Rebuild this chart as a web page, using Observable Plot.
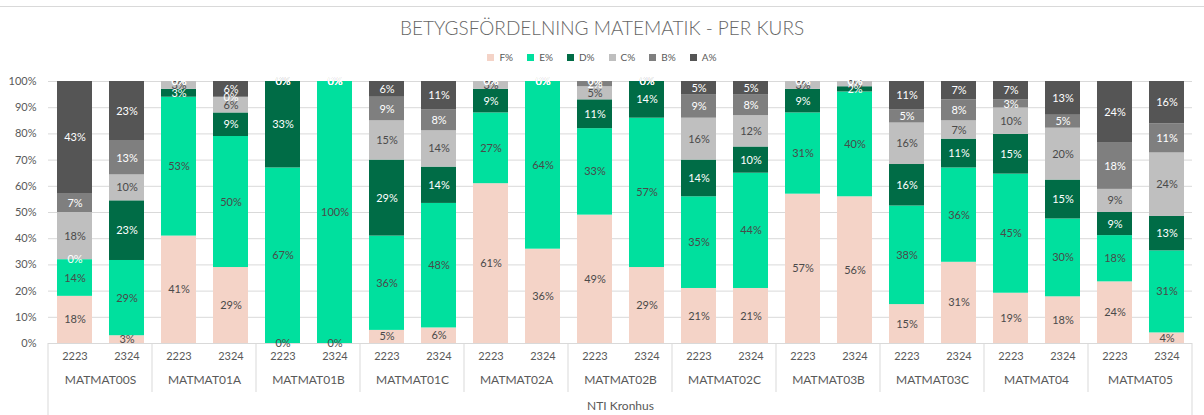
<!DOCTYPE html>
<html><head><meta charset="utf-8">
<script src="https://cdn.jsdelivr.net/npm/d3@7"></script>
<script src="https://cdn.jsdelivr.net/npm/@observablehq/plot@0.6"></script>
<style>
body{margin:0;background:#fff;font-family:Lato,"Open Sans",sans-serif;}
#wrap{position:relative;width:1204px;height:415px;overflow:hidden;background:#fff;}
#topline{position:absolute;left:0;top:6px;width:1204px;height:0;border-top:1px solid #d9d9d9;}
#title{position:absolute;top:17px;left:0;width:1204px;text-align:center;font-size:19px;color:#666666;line-height:22px;font-weight:300;}
#legend{position:absolute;top:51px;left:0;width:1204px;display:flex;justify-content:center;gap:14px;font-size:10px;color:#595959;line-height:12px;}
#legend span.sw{display:inline-block;width:7px;height:7px;margin-right:5px;vertical-align:0px;}
#chart{position:absolute;top:70px;left:0;}
</style></head><body>
<div id="wrap">
  <div id="topline"></div>
  <div id="title">BETYGSFÖRDELNING MATEMATIK - PER KURS</div>
  <div id="legend"></div>
  <div id="chart"></div>
</div>
<script>
// ---- data ----
const courses = ["MATMAT00S","MATMAT01A","MATMAT01B","MATMAT01C","MATMAT02A","MATMAT02B","MATMAT02C","MATMAT03B","MATMAT03C","MATMAT04","MATMAT05"];
const years = ["2223","2324"];
const grades = ["F%","E%","D%","C%","B%","A%"];
// one value per bar: course order above, 2223 then 2324 within each course
const F = [18,3, 41,29, 0,0, 5,6, 61,36, 49,29, 21,21, 57,56, 15,31, 19,18, 24,4];
const E = [14,29, 53,50, 67,100, 36,48, 27,64, 33,57, 35,44, 31,40, 38,36, 45,30, 18,31];
const D = [0,23, 3,9, 33,0, 29,14, 9,0, 11,14, 14,10, 9,2, 16,11, 15,15, 9,13];
const C = [18,10, 3,6, 0,0, 15,14, 3,0, 5,0, 16,12, 3,2, 16,7, 10,20, 9,24];
const B = [7,13, 0,0, 0,0, 9,8, 0,0, 2,0, 9,8, 0,0, 5,8, 3,5, 18,11];
const A = [43,23, 0,6, 0,0, 6,11, 0,0, 0,0, 5,5, 0,0, 11,7, 7,13, 24,16];
const yTicks = [0,0.1,0.2,0.3,0.4,0.5,0.6,0.7,0.8,0.9,1];

// ---- styles ----
const gradeColors = ["#f4d3c7","#00e09e","#006c46","#bfbfbf","#7f7f7f","#555555"];
const darkLabelGrades = ["F%","E%","C%"];
const lightLabelGrades = ["D%","B%","A%"];
const gridColor = "#d9d9d9";
const textColor = "#595959";

// legend
const leg = document.getElementById("legend");
grades.forEach((g,i)=>{
  const it = document.createElement("div");
  it.innerHTML = `<span class="sw" style="background:${gradeColors[i]}"></span>${g}`;
  leg.appendChild(it);
});

// table
const series = [F,E,D,C,B,A];
const rows = [];
courses.forEach((c,ci)=>years.forEach((y,yi)=>{
  const k = ci*2+yi;
  grades.forEach((g,gi)=>rows.push({course:c, year:y, grade:g, value:series[gi][k]}));
}));

const stackOpts = {fx:"course", x:"year", y:"value", z:"grade", order:grades, offset:"normalize"};

const H = 345;
const plot = Plot.plot({
  width:1204, height:H,
  marginLeft:48, marginRight:12, marginTop:11, marginBottom:72,
  style:{fontFamily:"Lato, 'Open Sans', sans-serif", fontSize:"11px", color:textColor, background:"transparent", overflow:"visible"},
  fx:{domain:courses, padding:0, label:null},
  x:{domain:years, paddingInner:1/3, paddingOuter:1/6, label:null},
  y:{domain:[0,1], label:null},
  color:{domain:grades, range:gradeColors},
  marks:[
    Plot.gridY({ticks:yTicks, stroke:gridColor, strokeOpacity:1}),
    Plot.barY(rows, Plot.stackY({...stackOpts, fill:"grade", inset:0})),
    Plot.text(rows, Plot.filter(d=>darkLabelGrades.includes(d.grade),
      Plot.stackY({...stackOpts, text:d=>d.value+"%", fill:"#4a4a4a", fontSize:11}))),
    Plot.text(rows, Plot.filter(d=>lightLabelGrades.includes(d.grade),
      Plot.stackY({...stackOpts, text:d=>d.value+"%", fill:"#ffffff", fontSize:11}))),
    Plot.axisY({ticks:yTicks, tickFormat:d3.format(".0%"), tickSize:0, tickPadding:12, fontSize:11, fill:textColor, label:null}),
    Plot.axisX({anchor:"bottom", tickSize:0, tickPadding:9, fontSize:11, fill:textColor, label:null}),
    Plot.axisFx({anchor:"bottom", tickSize:0, tickPadding:32, fontSize:12, fill:textColor,
      label:"NTI Kronhus", labelAnchor:"center", labelOffset:66})
  ]
});

// category separators from the fx scale
const fxS = plot.scale("fx");
const y0 = plot.scale("y").apply(0);
const svg = d3.select(plot);
const bounds = courses.map(c=>fxS.apply(c));
bounds.push(fxS.apply(courses[courses.length-1]) + fxS.bandwidth);
bounds.forEach((b,i)=>{
  const outer = (i===0 || i===bounds.length-1);
  svg.append("line").attr("x1",b).attr("x2",b).attr("y1",y0).attr("y2", outer ? H : y0+49)
    .attr("stroke",gridColor).attr("stroke-width",1);
});

document.getElementById("chart").appendChild(plot);
</script>
</body></html>
